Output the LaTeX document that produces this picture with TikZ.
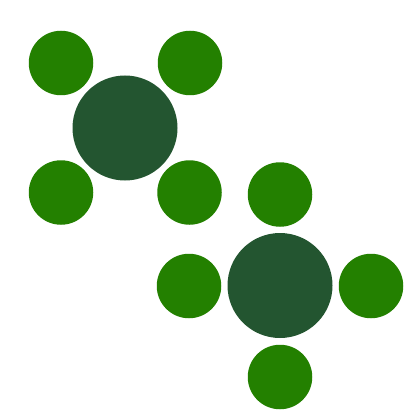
\documentclass[tikz,border=0pt]{standalone}
\usepackage{tikz}
\usetikzlibrary{positioning}

\definecolor{hubgreen}{RGB}{35,85,48}
\definecolor{leafgreen}{RGB}{35,128,0}

\begin{document}
\begin{tikzpicture}[
        x=1pt, y=-1pt,
        hub/.style={circle, fill=hubgreen, minimum size=105pt, inner sep=0pt},
        leaf/.style={circle, fill=leafgreen, minimum size=64.5pt, inner sep=0pt},
    ]
    \useasboundingbox (0,0) rectangle (417,417);
    % first group, leaves on the diagonals
    \node[hub] (hubA) at (125,128) {};
    \node[leaf] (leafA1) at (61,63) {};
    \node[leaf] (leafA2) at (190,63) {};
    \node[leaf] (leafA3) at (61,192.5) {};
    \node[leaf] (leafA4) at (189.5,192.5) {};
    % second group, leaves on the axes
    \node[hub] (hubB) at (280,285.5) {};
    \node[leaf] (leafB1) at (280,194.5) {};
    \node[leaf] (leafB2) at (189,286) {};
    \node[leaf] (leafB3) at (371,286) {};
    \node[leaf] (leafB4) at (280,377) {};
\end{tikzpicture}
\end{document}
